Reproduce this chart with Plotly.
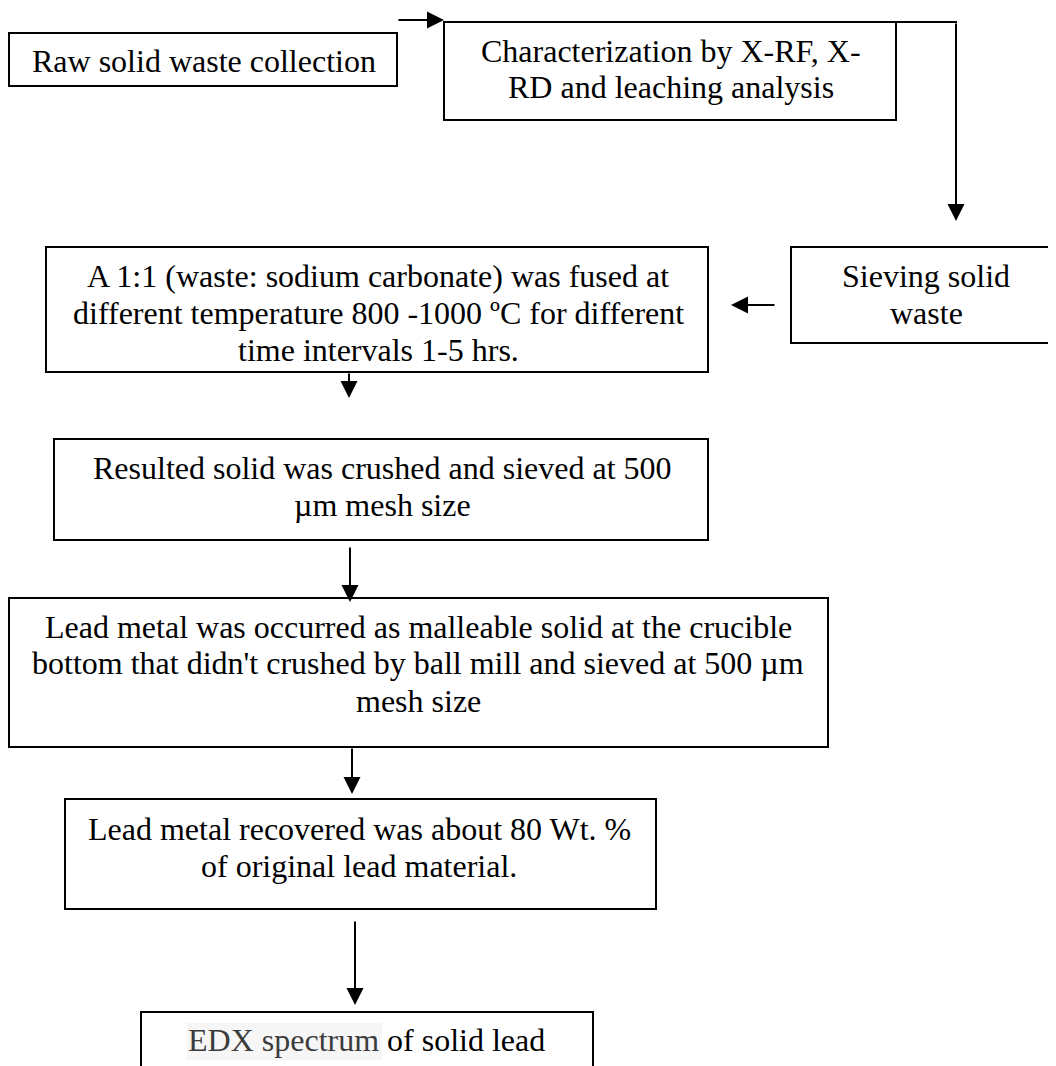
import plotly.graph_objects as go

# ---- content (text of each flowchart step, one list entry per line) ----
step_lines = [
    ["Raw solid waste collection"],
    ["Characterization by X-RF, X-", "RD and leaching analysis"],
    ["Sieving solid", "waste"],
    ["A 1:1 (waste: sodium carbonate) was fused at",
     "different temperature 800 -1000 ºC for different",
     "time intervals 1-5 hrs."],
    ["Resulted solid was crushed and sieved at 500", "µm mesh size"],
    ["Lead metal was occurred as malleable solid at the crucible",
     "bottom that didn't crushed by ball mill and sieved at 500 µm",
     "mesh size"],
    ["Lead metal recovered was about 80 Wt. %", "of original lead material."],
    ['<span style="color:#3c3c3c">EDX spectrum</span> of solid lead'],
]

# ---- layout geometry (pixel canvas, y downward) ----
box_geom = [
    (9, 33, 397, 86),
    (444, 22, 896, 120),
    (791, 247, 1062, 343),
    (46, 247, 708, 372),
    (54, 439, 708, 540),
    (9, 598, 828, 747),
    (65, 799, 656, 909),
    (141, 1012, 593, 1090),
]
text_x = [204, 671, 926, 378, 382, 418, 359, 366]
text_y = [
    [61],
    [51, 87],
    [276, 313],
    [276, 313, 350],
    [468, 505],
    [627, 663, 701],
    [829, 866],
    [1040],
]
# arrows: (start_x, start_y, tip_x, tip_y)
arrows = [
    (397, 20, 444, 20),
    (956, 22, 956, 221),
    (776, 305, 731, 305),
    (349, 372, 349, 398),
    (350, 546, 350, 602),
    (352, 747, 352, 794),
    (355, 920, 355, 1005),
]

# page has an 8px body margin; the canvas is offset to compensate
OFF = 8
W, H = 1056 - OFF, 1066 - OFF
FONT = "Liberation Serif, Times New Roman, serif"

fig = go.Figure()

shapes = []
# highlight behind "EDX spectrum"
shapes.append(dict(type="rect", xref="x", yref="y", x0=187, y0=1023, x1=382, y1=1060,
                   fillcolor="#f6f6f6", line=dict(width=0), layer="below"))
for (x0, y0, x1, y1) in box_geom:
    shapes.append(dict(type="rect", xref="x", yref="y", x0=x0, y0=y0, x1=x1, y1=y1,
                       line=dict(color="#000000", width=2), fillcolor="rgba(0,0,0,0)"))
# elbow connector segment from characterization box
shapes.append(dict(type="line", xref="x", yref="y", x0=896, y0=22, x1=957, y1=22,
                   line=dict(color="#000000", width=2)))

annotations = []
for lines, cx, ys in zip(step_lines, text_x, text_y):
    for line, ly in zip(lines, ys):
        annotations.append(dict(x=cx, y=ly, xref="x", yref="y", text=line, showarrow=False,
                                xanchor="center", yanchor="middle",
                                font=dict(family=FONT, size=32, color="#000000")))
for (sx, sy, tx, ty) in arrows:
    annotations.append(dict(x=tx, y=ty, ax=sx, ay=sy, xref="x", yref="y", axref="x", ayref="y",
                            text="", showarrow=True, arrowhead=2, arrowsize=1.7, arrowwidth=2,
                            arrowcolor="#000000", standoff=0, startstandoff=0))

fig.update_layout(
    width=W, height=H,
    margin=dict(l=0, r=0, t=0, b=0),
    paper_bgcolor="white", plot_bgcolor="white",
    xaxis=dict(range=[OFF, 1056], visible=False, fixedrange=True),
    yaxis=dict(range=[1066, OFF], visible=False, fixedrange=True),
    shapes=shapes, annotations=annotations, showlegend=False,
)

fig.write_html("out.html")
